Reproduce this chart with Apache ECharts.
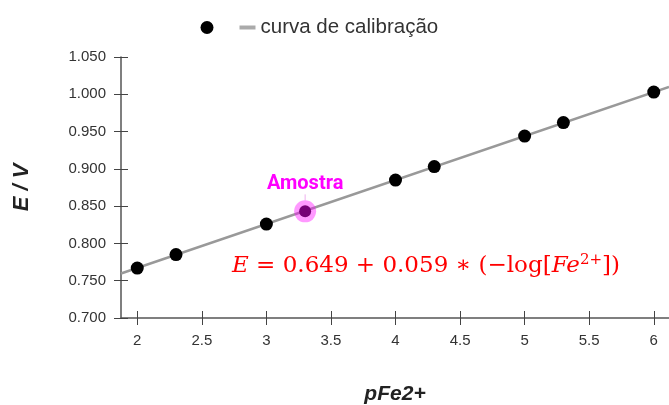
<!DOCTYPE html>
<html>
<head>
<meta charset="utf-8">
<script src="https://cdn.jsdelivr.net/npm/echarts@6/dist/echarts.min.js"></script>
<style>html,body{margin:0;padding:0;background:#fff}#c{width:669px;height:405px}</style>
</head>
<body>
<div id="c"></div>
<script>
const xTicks = [2, 2.5, 3, 3.5, 4, 4.5, 5, 5.5, 6];
const yTicks = [0.70, 0.75, 0.80, 0.85, 0.90, 0.95, 1.00, 1.05];
const pFe = [2, 2.3, 3, 4, 4.3, 5, 5.3, 6];
const E = [0.767, 0.785, 0.826, 0.885, 0.903, 0.944, 0.962, 1.003];
const sampleX = [3.3];
const sampleE = [0.843];
const curveX = [1.874, 6.118];
const curveE = [0.7596, 1.010];

const chart = echarts.init(document.getElementById('c'));
const font = 'Liberation Sans, Arial, sans-serif';
chart.setOption({
  animation: false,
  textStyle: { fontFamily: font },
  legend: {
    left: 194, top: 12,
    itemWidth: 16, itemHeight: 13, itemGap: 26,
    data: [{ name: 'dados', icon: 'circle' }, { name: 'curva de calibração', icon: 'path://M0,0H16V4H0Z' }],
    formatter: n => n === 'dados' ? '' : n,
    textStyle: { fontSize: 20.5, color: '#333', fontFamily: font }
  },
  grid: { left: 121, right: 0, top: 57, bottom: 87, outerBoundsMode: 'none', containLabel: false },
  xAxis: [
    {
      type: 'value', min: 1.874, max: 6.118,
      name: 'pFe2+', nameLocation: 'middle', nameGap: 66,
      nameTextStyle: { fontSize: 21, fontWeight: 'bold', fontStyle: 'italic', color: '#222' },
      axisLine: { show: true, lineStyle: { color: '#555', width: 1.5 } },
      axisTick: { show: false },
      axisLabel: { customValues: xTicks, fontSize: 15, color: '#333', margin: 15 },
      splitLine: { show: false }
    },
    {
      type: 'value', min: 1.874, max: 6.118,
      position: 'bottom', offset: -7,
      axisLine: { show: false },
      axisTick: { show: true, length: 14, customValues: xTicks, lineStyle: { color: '#444' } },
      axisLabel: { show: false },
      splitLine: { show: false }
    }
  ],
  yAxis: [
    {
      type: 'value', min: 0.70, max: 1.05, interval: 0.05,
      name: 'E / V', nameLocation: 'middle', nameGap: 88,
      nameTextStyle: { fontSize: 22, fontWeight: 'bold', fontStyle: 'italic', color: '#222' },
      axisLine: { show: true, lineStyle: { color: '#555', width: 1.5 } },
      axisTick: { show: false },
      axisLabel: { fontSize: 15, color: '#333', margin: 15, formatter: v => v.toFixed(3) },
      splitLine: { show: false }
    },
    {
      type: 'value', min: 0.70, max: 1.05, interval: 0.05,
      position: 'left', offset: -7,
      axisLine: { show: false },
      axisTick: { show: true, length: 14, lineStyle: { color: '#444' } },
      axisLabel: { show: false },
      splitLine: { show: false }
    }
  ],
  series: [
    {
      name: 'curva de calibração', type: 'line',
      data: curveX.map((x, i) => [x, curveE[i]]),
      showSymbol: false, symbol: 'none',
      lineStyle: { color: '#999', width: 2.5 },
      itemStyle: { color: '#aaa' },
      z: 2
    },
    {
      name: 'dados', type: 'scatter',
      data: pFe.map((x, i) => [x, E[i]]),
      symbolSize: 13,
      itemStyle: { color: '#000', opacity: 1 },
      z: 3
    },
    {
      name: 'halo', type: 'scatter',
      data: sampleX.map((x, i) => [x, sampleE[i]]),
      symbolSize: 22,
      itemStyle: { color: 'rgba(255,0,255,0.4)', opacity: 1 },
      label: { show: true, formatter: 'Amostra', position: 'top', distance: 3,
        fontSize: 20, fontWeight: 'bold', color: '#ff00ff', fontFamily: 'Roboto, sans-serif' },
      labelLine: { show: true, length2: 0, lineStyle: { color: '#eeb0ee', width: 1 } },
      labelLayout: { dy: -3 },
      z: 4
    },
    {
      name: 'amostra', type: 'scatter',
      data: sampleX.map((x, i) => [x, sampleE[i]]),
      symbolSize: 12,
      itemStyle: { color: '#760076', opacity: 1 },
      z: 5
    }
  ],
  graphic: [
    {
      type: 'text', left: 232, top: 253,
      style: {
        text: '{i|E} = 0.649 + 0.059 ∗ (−log[{i|Fe}{s|2+}])',
        fill: '#ff0000',
        font: '23px "DejaVu Serif", serif',
        rich: {
          i: { fontStyle: 'italic', fontSize: 23, fontFamily: 'DejaVu Serif', fill: '#ff0000' },
          s: { fontSize: 15, fontFamily: 'DejaVu Serif', verticalAlign: 'top', padding: [0,0,12,0], fill: '#ff0000' }
        }
      }
    }
  ]
});
</script>
</body>
</html>
